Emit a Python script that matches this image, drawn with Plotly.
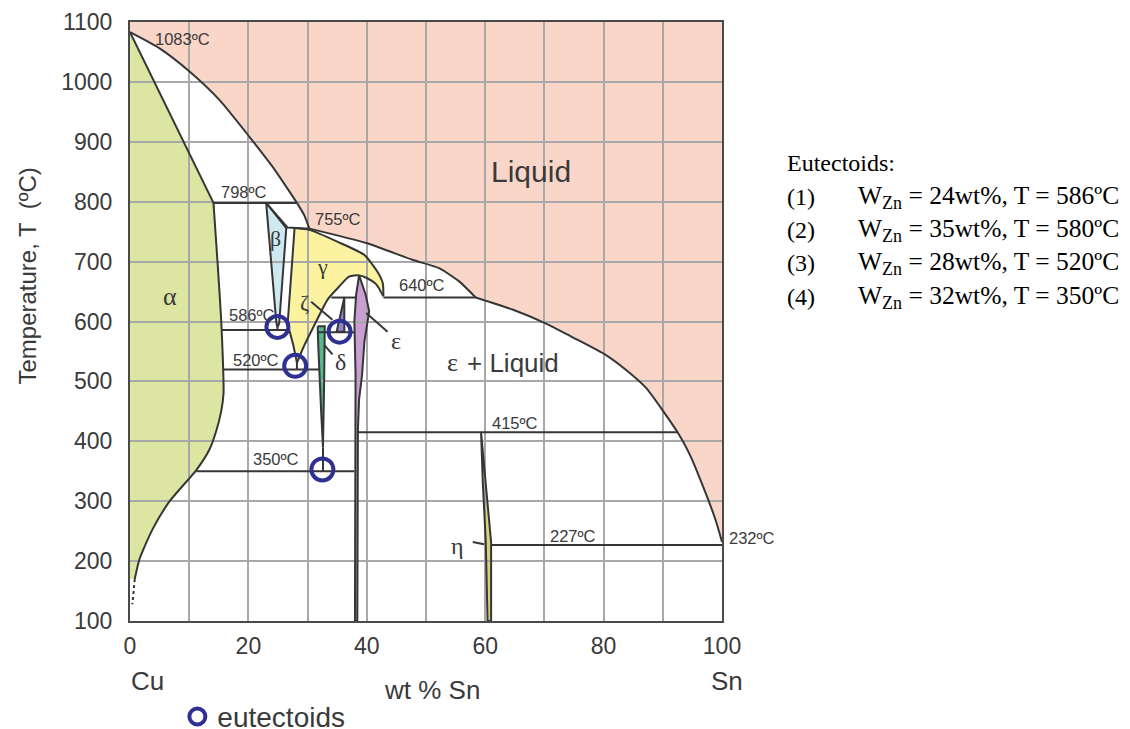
import plotly.graph_objects as go

# ---- phase boundaries: composition (wt% Sn) and temperature (degC) ----
liquidus_x = [0, 5.0, 10.1, 15.1, 20.2, 24.1, 28.2, 29.4, 30.3, 39.9, 47.7, 52.2, 55.6, 58.4, 64.6, 70.2,
              74.7, 80.4, 83.7, 87.1, 92.5, 94.4, 96.1, 98.9, 100]
liquidus_T = [1083, 1056, 1017, 970, 908, 858, 798, 778, 755, 731, 703, 689, 667, 640, 620, 597,
              574, 544, 520, 490, 415, 381, 342, 269, 232]

alpha_x = [0, 14.1, 14.8, 15.4, 15.7, 15.8, 15.4, 14.5, 13.4, 11.2, 6.7, 3.8, 1.6, 0.8, 0]
alpha_T = [1083, 798, 697, 603, 533, 480, 450, 415, 386, 352, 300, 253, 203, 170, 170]
alpha_tail_x = [0.8, 0.6, 0.4]
alpha_tail_T = [170, 150, 128]

beta_x = [23.0, 26.4, 25.2, 24.9, 24.7]
beta_T = [798, 756, 597, 590, 600]

gamma_x = [27.8, 30.3, 35.1, 39.6, 41.8, 42.7, 42.8, 41.6, 39.9, 38.7, 37.0, 35.3, 33.4, 31.3, 29.3, 28.2, 27.6, 26.9, 26.6]
gamma_T = [756, 753, 733, 711, 683, 664, 642, 662, 673, 677, 675, 658, 637, 597, 557, 531, 560, 586, 592]

delta_x = [31.7, 32.9, 32.8, 32.7, 32.6, 32.3, 32.0, 31.8]
delta_T = [592, 592, 503, 447, 390, 447, 503, 560]

zeta_x = [36.2, 36.2, 34.9]
zeta_T = [640, 583, 583]

eps_x = [38.7, 39.8, 40.4, 39.6, 39.2, 38.7, 38.5, 38.4, 38.0, 38.0, 38.1, 37.9, 38.2]
eps_T = [677, 645, 617, 567, 511, 470, 420, 100, 100, 420, 511, 600, 645]

eta_x = [59.3, 60.3, 61.0, 61.0, 60.4, 60.1, 59.6]
eta_T = [415, 300, 231, 100, 100, 231, 330]

# isotherms and other straight boundaries
peritectic_x = [23.0, 26.6, 30.3]
peritectic_T = [798, 757, 755]
iso798_x, iso798_T = [14.1, 28.2], [798, 798]
iso640a_x, iso640a_T = [34.0, 38.2], [640, 640]
iso640b_x, iso640b_T = [42.8, 58.4], [640, 640]
iso586_x, iso586_T = [15.4, 26.9], [586, 586]
iso582_x, iso582_T = [31.7, 37.9], [582, 582]
iso520_x, iso520_T = [15.7, 32.0], [520, 520]
iso415_x, iso415_T = [38.5, 92.5], [415, 415]
iso350_x, iso350_T = [11.2, 37.9], [350, 350]
iso227_x, iso227_T = [61.0, 100], [227, 227]
beta_tick_x, beta_tick_T = [24.9, 24.9], [590, 586]
gamma_tick_x, gamma_tick_T = [28.2, 28.2], [531, 520]
delta_tail_x, delta_tail_T = [32.6, 32.6], [390, 350]

# leader lines for the small phase labels
zeta_lead_x, zeta_lead_T = [30.6, 34.2], [633, 603]
delta_lead_x, delta_lead_T = [32.8, 34.2], [561, 545]
eps_lead_x, eps_lead_T = [39.9, 43.5], [614, 583]
eta_lead_x, eta_lead_T = [57.9, 59.8], [232, 228]

# eutectoid markers and listing
eut_circle_x = [24.9, 35.4, 27.9, 32.5]
eut_circle_T = [591, 583, 526, 353]
eut_wt = [24, 35, 28, 32]
eut_T = [586, 580, 520, 350]

x_ticks = [0, 20, 40, 60, 80, 100]
y_ticks = [100, 200, 300, 400, 500, 600, 700, 800, 900, 1000, 1100]

LINE = '#363636'
GRID = '#a8a8a8'
TXT = '#3a3a3a'
SANS = 'Liberation Sans, Arial, sans-serif'
SERIF = 'Liberation Serif, Times New Roman, serif'

fig = go.Figure()


def region(xs, ts, color):
    fig.add_trace(go.Scatter(x=xs + xs[:1], y=ts + ts[:1], mode='lines', fill='toself',
                             fillcolor=color, line=dict(width=0), hoverinfo='skip',
                             showlegend=False, xaxis='x', yaxis='y'))


def boundary(xs, ts, closed=False, dash='solid', smooth=False):
    if closed:
        xs, ts = xs + xs[:1], ts + ts[:1]
    line = dict(color=LINE, width=2, dash=dash)
    if smooth:
        line.update(shape='spline', smoothing=0.6)
    fig.add_trace(go.Scatter(x=xs, y=ts, mode='lines', line=line,
                             hoverinfo='skip', showlegend=False, xaxis='x2', yaxis='y2'))


def note(text, x, y, size, family=SANS, color=TXT, ref='data', **kw):
    r = ('x2', 'y2') if ref == 'data' else ('paper', 'paper')
    opts = dict(xanchor='center', yanchor='middle')
    opts.update(kw)
    fig.add_annotation(x=x, y=y, xref=r[0], yref=r[1], text=text, showarrow=False,
                       font=dict(family=family, size=size, color=color), **opts)


# filled phase fields (bottom subplot, under the grid)
region(liquidus_x + [100, 0], liquidus_T + [1100, 1100], '#f9d6c8')
region(alpha_x, alpha_T, '#dce6a2')
region(beta_x, beta_T, '#cfe9f1')
region(gamma_x, gamma_T, '#fbf3a0')
region(delta_x, delta_T, '#55b98c')
region(zeta_x, zeta_T, '#8f86c9')
region(eps_x, eps_T, '#c99ed1')
region(eta_x, eta_T, '#d8d27c')

# boundary lines (top subplot, over the grid); curved runs split at their kinks
for a, b in [(0, 7), (6, 9), (8, 14), (13, len(liquidus_x))]:
    boundary(liquidus_x[a:b], liquidus_T[a:b], smooth=True)
boundary(alpha_x[:2], alpha_T[:2])
boundary(alpha_x[1:-1], alpha_T[1:-1], smooth=True)
boundary(alpha_tail_x, alpha_tail_T, dash='dot')
boundary(beta_x, beta_T, closed=True)
boundary(gamma_x[:7], gamma_T[:7], smooth=True)
boundary(gamma_x[6:16], gamma_T[6:16], smooth=True)
boundary(gamma_x[15:] + gamma_x[:1], gamma_T[15:] + gamma_T[:1])
boundary(delta_x, delta_T, closed=True)
boundary(zeta_x, zeta_T, closed=True)
boundary(eps_x, eps_T, closed=True)
boundary(eta_x, eta_T, closed=True)
for xs, ts in [(peritectic_x, peritectic_T), (iso798_x, iso798_T), (iso640a_x, iso640a_T),
               (iso640b_x, iso640b_T), (iso586_x, iso586_T), (iso582_x, iso582_T),
               (iso520_x, iso520_T), (iso415_x, iso415_T), (iso350_x, iso350_T),
               (iso227_x, iso227_T), (beta_tick_x, beta_tick_T), (gamma_tick_x, gamma_tick_T),
               (delta_tail_x, delta_tail_T), (zeta_lead_x, zeta_lead_T), (delta_lead_x, delta_lead_T),
               (eps_lead_x, eps_lead_T), (eta_lead_x, eta_lead_T)]:
    boundary(xs, ts)

fig.add_trace(go.Scatter(x=eut_circle_x, y=eut_circle_T, mode='markers', name='eutectoids',
                         marker=dict(symbol='circle-open', size=22, color='#2e3192',
                                     line=dict(width=4, color='#2e3192')),
                         xaxis='x2', yaxis='y2', showlegend=True))

# labels inside the diagram
temp_labels = [('1083ºC', 8.9, 1072), ('798ºC', 19.2, 817), ('755ºC', 35.2, 771), ('640ºC', 49.4, 661),
               ('586ºC', 20.6, 611), ('520ºC', 21.2, 536), ('350ºC', 24.7, 370), ('415ºC', 65.1, 431),
               ('227ºC', 74.9, 242)]
for txt, x, t in temp_labels:
    note(txt, x, t, 16.5)

greek = [('α', 6.7, 641, 26), ('β', 24.6, 738, 22), ('γ', 32.5, 692, 22), ('ζ', 29.5, 631, 22),
         ('δ', 35.6, 533, 24), ('ε', 45.0, 567, 24), ('η', 55.3, 225, 24), ('ε', 54.5, 531, 26)]
for txt, x, t, s in greek:
    note(txt, x, t, s, family=SERIF)

note('Liquid', 67.8, 850, 30)
note('+ Liquid', 64.7, 531, 26)
note('232ºC', 1.0507, 0.1386, 16.5, ref='paper')

# axis captions
note('Temperature, T  (ºC)', -0.173, 0.576, 24, ref='paper', textangle=-90)
note('wt % Sn', 0.51, -0.115, 26, ref='paper')
note('Cu', 0.030, -0.100, 26, ref='paper')
note('Sn', 1.008, -0.100, 26, ref='paper')

# eutectoid list on the right
note('Eutectoids:', 1.1064, 0.7646, 24, family=SERIF, color='black', ref='paper', xanchor='left')
row_y = [0.7078, 0.6528, 0.5977, 0.5409]
for i, (w, t) in enumerate(zip(eut_wt, eut_T)):
    note(f'({i + 1})', 1.1064, row_y[i], 24, family=SERIF, color='black', ref='paper', xanchor='left')
    note(f'W<sub><span style="font-size:18px">Zn</span></sub> = {w}wt%, T = {t}ºC', 1.226, row_y[i], 25.5,
         family=SERIF, color='black', ref='paper', xanchor='left')

fig.update_layout(
    width=1130, height=729,
    margin=dict(l=122, r=416, t=14, b=116, autoexpand=False),
    paper_bgcolor='white', plot_bgcolor='rgba(0,0,0,0)',
    xaxis=dict(range=[0, 100], domain=[0, 1], visible=False),
    yaxis=dict(range=[100, 1100], domain=[0, 1], visible=False),
    xaxis2=dict(range=[0, 100], domain=[0, 1], anchor='y2', tickvals=x_ticks,
                showgrid=True, gridcolor=GRID, gridwidth=1.5,
                minor=dict(dtick=10, showgrid=True, gridcolor=GRID, gridwidth=1.5),
                showline=True, mirror=True, linecolor='#4a4a4a', linewidth=2,
                ticks='', ticklabelstandoff=3, zeroline=False,
                tickfont=dict(family=SANS, size=23, color=TXT)),
    yaxis2=dict(range=[100, 1100], domain=[0, 1], anchor='x2', tickvals=y_ticks,
                showgrid=True, gridcolor=GRID, gridwidth=1.5,
                showline=True, mirror=True, linecolor='#4a4a4a', linewidth=2,
                ticks='', ticklabelstandoff=11, zeroline=False,
                tickfont=dict(family=SANS, size=23, color=TXT)),
    legend=dict(x=0.08, y=-0.16, xanchor='left', yanchor='middle', bgcolor='rgba(0,0,0,0)',
                font=dict(family=SANS, size=28, color=TXT)),
)

fig.write_html("out.html")
